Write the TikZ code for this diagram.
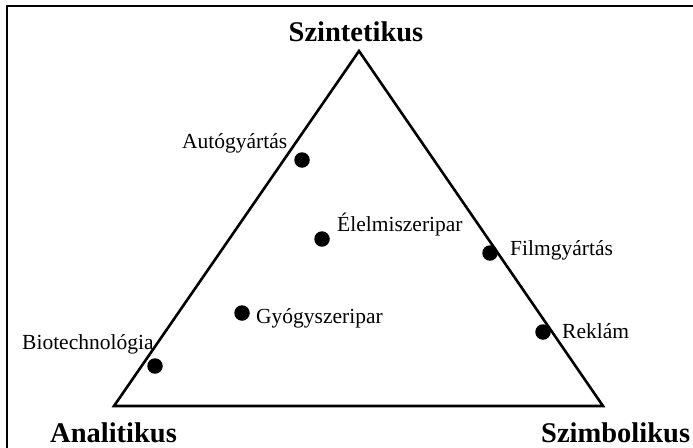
\documentclass[tikz,border=0pt]{standalone}
\usepackage{fontspec}
\setmainfont{Liberation Serif}
\begin{document}
\begin{tikzpicture}[x=1pt,y=-1pt,
  dot/.style={circle,fill=black,inner sep=0pt,minimum size=15.5pt},
  lbl/.style={anchor=base west,inner sep=0pt,font=\fontsize{21.5}{24}\selectfont},
  axislbl/.style={inner sep=0pt,font=\fontsize{28.5}{32}\selectfont\bfseries},
  edge/.style={line width=2.6pt,line join=miter}]
\useasboundingbox (0,0) rectangle (693,447);
% frame
\draw[line width=2.8pt] (7,460) -- (7,6) -- (700,6);
% corners
\coordinate (S) at (359,51);
\coordinate (A) at (114,406);
\coordinate (Z) at (603,406);
\draw[edge] (S) -- (Z) -- (A) -- cycle;
% axis labels
\node[axislbl,anchor=base] (szint) at (356,41) {Szintetikus};
\node[axislbl,anchor=base west] (anal) at (50,442) {Analitikus};
\node[axislbl,anchor=base west] (szimb) at (541,442) {Szimbolikus};
% dots
\node[dot] (d1) at (302,160) {};
\node[dot] (d2) at (322,239) {};
\node[dot] (d3) at (242,313) {};
\node[dot] (d4) at (490,253) {};
\node[dot] (d5) at (543,332) {};
\node[dot] (d6) at (155,366) {};
% labels
\node[lbl] (l1) at (182,148) {Autógyártás};
\node[lbl] (l2) at (337,231) {Élelmiszeripar};
\node[lbl] (l3) at (256,323) {Gyógyszeripar};
\node[lbl] (l4) at (510,255) {Filmgyártás};
\node[lbl] (l5) at (562,338) {Reklám};
\node[lbl] (l6) at (22,349) {Biotechnológia};
\end{tikzpicture}
\end{document}
